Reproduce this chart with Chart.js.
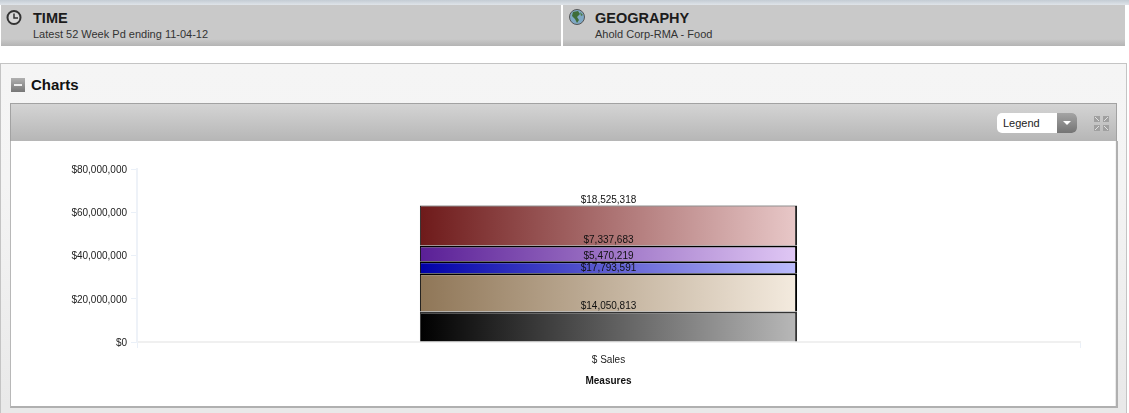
<!DOCTYPE html>
<html>
<head>
<meta charset="utf-8">
<script src="https://cdn.jsdelivr.net/npm/chart.js@4"></script>
<style>
    html, body { margin: 0; padding: 0; background: #fff; overflow: hidden; }
    body { width: 1129px; height: 413px; position: relative; font-family: "Liberation Sans", Arial, sans-serif; color: #222; }
    .abs { position: absolute; }
    .topband { left: 0; top: 0; width: 1129px; height: 5px; background: linear-gradient(#c4ccd4, #dfe4e9); }
    .strip { top: 5px; height: 41px; background: linear-gradient(#c9c9c9 0, #c9c9c9 34px, #b4b4b4 41px); }
    .strip h2 { position: absolute; left: 32px; top: 5px; margin: 0; font-size: 14.5px; line-height: 16px; color: #1c1c1c; }
    .strip p { position: absolute; left: 32px; top: 23px; margin: 0; font-size: 11px; line-height: 12px; color: #333; }
    .panel { left: 0; top: 63px; width: 1125px; height: 360px; background: linear-gradient(#f5f5f5 0, #f4f4f4 120px, #e9e9e9 340px); border: 1px solid #c4c4c4; }
    .charts-title { left: 31px; top: 76px; font-size: 15px; line-height: 18px; font-weight: bold; color: #111; }
    .minus { left: 11px; top: 78px; width: 14px; height: 14px; background: linear-gradient(#b0b0b0, #777); }
    .minus::after { content: ""; position: absolute; left: 3px; top: 6px; width: 8px; height: 2px; background: #eee; }
    .toolbar { left: 10px; top: 103px; width: 1105px; height: 37px; background: linear-gradient(#d4d4d4, #b6b6b6); border: 1px solid #a2a2a2; border-bottom: 0; }
    .white { left: 11px; top: 141px; width: 1104px; height: 265px; background: #fff; }
    .shadow { left: 10px; top: 141px; width: 1105px; height: 265px; border-left: 1px solid #b8b8b8; border-right: 2px solid #b0b0b0; border-bottom: 2px solid #b0b0b0; }
    .select { left: 997px; top: 113px; width: 80px; height: 20px; border-radius: 5px; background: #fff; overflow: hidden; font-size: 11px; line-height: 20px; color: #222; }
    .select span { position: absolute; left: 6px; top: 0; }
    .select i { position: absolute; right: 0; top: 0; width: 20px; height: 20px; background: linear-gradient(#a4a4a4, #747474); }
    .select i::after { content: ""; position: absolute; left: 6px; top: 8px; border: 4px solid transparent; border-top: 4px solid #fff; }
    #chartBox { left: 11px; top: 141px; width: 1104px; height: 265px; }
</style>
</head>
<body>
<div class="abs topband"></div>
<div class="abs strip" style="left:1px;width:560px">
    <svg class="abs" style="left:5px;top:4px" width="18" height="18" viewBox="0 0 18 18">
        <circle cx="8" cy="8.5" r="6.5" fill="#d8d8d8" stroke="#333" stroke-width="2"/>
        <path d="M8 4.5V9H12" fill="none" stroke="#333" stroke-width="1.5"/>
    </svg>
    <h2>TIME</h2>
    <p>Latest 52 Week Pd ending 11-04-12</p>
</div>
<div class="abs strip" style="left:563px;width:562px">
    <svg class="abs" style="left:6px;top:4px" width="18" height="18" viewBox="0 0 18 18">
        <circle cx="8" cy="8" r="7.5" fill="#7fa8c4" stroke="#555" stroke-width="1"/>
        <path d="M4 3L9 2L11 5L8 8L10 11L8 14L6 10L3 7Z" fill="#3f6d3a"/>
        <path d="M11 3L14 6L12 7Z" fill="#4c7a46"/>
    </svg>
    <h2>GEOGRAPHY</h2>
    <p>Ahold Corp-RMA - Food</p>
</div>
<div class="abs panel"></div>
<div class="abs minus"></div>
<div class="abs charts-title">Charts</div>
<div class="abs toolbar"></div>
<div class="abs white"></div>
<div class="abs shadow"></div>
<div class="abs select"><span>Legend</span><i></i></div>
<svg class="abs" style="left:1094px;top:116px" width="15" height="15" viewBox="0 0 15 15">
    <path d="M0 0H6V6H0ZM9 0H15V6H9ZM0 9H6V15H0ZM9 9H15V15H9Z" fill="#a0a0a0"/>
    <path d="M1 1L5 5M14 1L10 5M1 14L5 10M14 14L10 10" stroke="#e0e0e0" stroke-width="1" fill="none"/>
</svg>
<div class="abs" id="chartBox"><canvas id="salesChart" width="1104" height="265"></canvas></div>

<script>
const categories = ['$ Sales'];
const blackValues = [14050813];
const tanValues = [17793591];
const blueValues = [5470219];
const purpleValues = [7337683];
const maroonValues = [18525318];
const yTickLabels = ['$0', '$20,000,000', '$40,000,000', '$60,000,000', '$80,000,000'];

const money = (v) => '$' + v.toLocaleString('en-US');

// left to right fade over the width of the bar
function fade(from, to) {
    return (ctx) => {
        const area = ctx.chart.chartArea;
        if (!area) return from;
        const left = area.left + area.width * 0.3;
        const g = ctx.chart.ctx.createLinearGradient(left, 0, left + area.width * 0.4, 0);
        g.addColorStop(0, from);
        g.addColorStop(1, to);
        return g;
    };
}

function segment(values, from, to, border, topWidth) {
    return {
        data: values,
        backgroundColor: fade(from, to),
        borderColor: border,
        borderWidth: { top: topWidth, right: 2, bottom: 0, left: 1 },
        borderSkipped: false
    };
}

// value text sits just above the top edge of each segment
const segmentLabels = {
    id: 'segmentLabels',
    afterDatasetsDraw(chart) {
        const c = chart.ctx;
        c.save();
        c.font = '10px "Liberation Sans", Arial, sans-serif';
        c.fillStyle = '#111';
        c.textAlign = 'center';
        c.textBaseline = 'middle';
        chart.data.datasets.forEach((ds, i) => {
            const bar = chart.getDatasetMeta(i).data[0];
            c.fillText(money(ds.data[0]), bar.x, bar.y - 5);
        });
        c.restore();
    }
};

new Chart(document.getElementById('salesChart'), {
    type: 'bar',
    data: {
        labels: categories,
        datasets: [
            segment(blackValues, '#000000', '#b8b8b8', '#333333', 2),
            segment(tanValues, '#8f7657', '#f4ebdf', '#000000', 2),
            segment(blueValues, '#0000a8', '#bcbcfc', '#000000', 2),
            segment(purpleValues, '#5a1f96', '#e0c8f5', '#000000', 2),
            segment(maroonValues, '#6e1a1a', '#e8c8c8', '#222222', 1)
        ]
    },
    plugins: [segmentLabels],
    options: {
        responsive: false,
        animation: false,
        barPercentage: 1,
        categoryPercentage: 0.4,
        layout: { padding: { top: 28, right: 35, bottom: 19, left: 0 } },
        plugins: { legend: { display: false }, tooltip: { enabled: false } },
        scales: {
            x: {
                stacked: true,
                title: {
                    display: true,
                    text: 'Measures',
                    color: '#111',
                    font: { family: '"Liberation Sans", Arial, sans-serif', size: 10, weight: 'bold' },
                    padding: { top: 3, bottom: 0 }
                },
                grid: { drawOnChartArea: false, color: '#eaf0f8', tickLength: 6 },
                border: { color: '#f0f0f0', width: 2 },
                ticks: { color: '#222', padding: 6, font: { family: '"Liberation Sans", Arial, sans-serif', size: 10 } }
            },
            y: {
                stacked: true,
                min: 0,
                max: 80000000,
                afterFit(scale) { scale.width = 126; },
                grid: { drawOnChartArea: false, color: '#eaf0f8', tickLength: 6 },
                border: { color: '#eef2f8', width: 2 },
                ticks: {
                    stepSize: 20000000,
                    color: '#222',
                    padding: 4,
                    labelOffset: 1,
                    font: { family: '"Liberation Sans", Arial, sans-serif', size: 10 },
                    callback: (v, i) => yTickLabels[i]
                }
            }
        }
    }
});
</script>
</body>
</html>
